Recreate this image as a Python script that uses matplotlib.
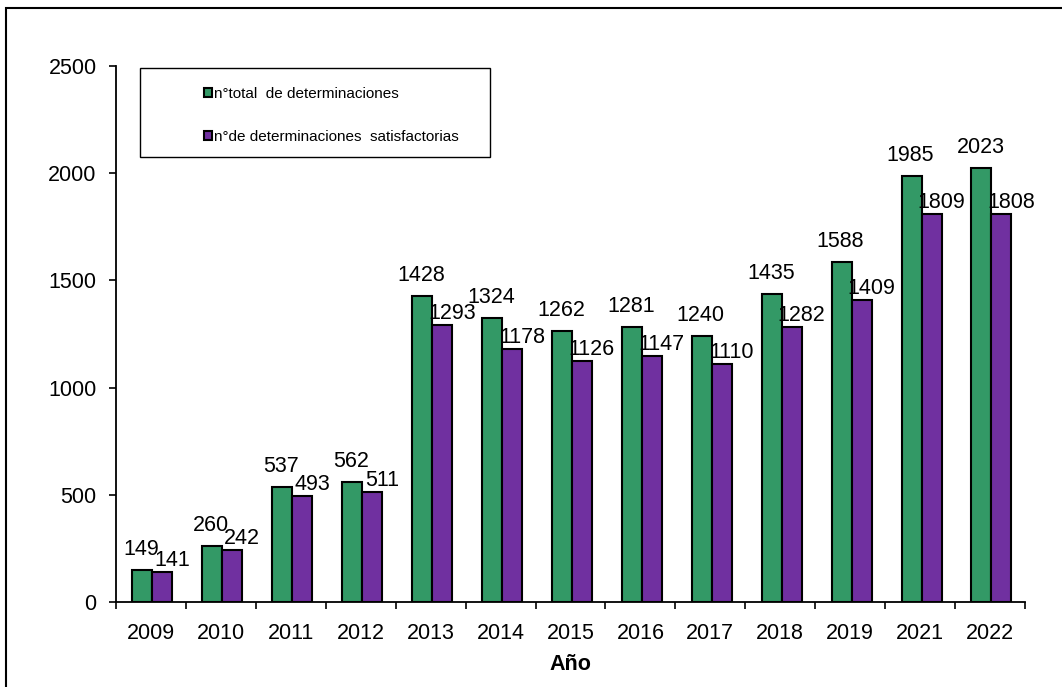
import numpy as np
import matplotlib
matplotlib.use("Agg")
import matplotlib.pyplot as plt
from matplotlib.patches import Rectangle

plt.rcParams["font.family"] = ["Liberation Sans", "DejaVu Sans"]

years = ["2009", "2010", "2011", "2012", "2013", "2014", "2015",
         "2016", "2017", "2018", "2019", "2021", "2022"]
total = [149, 260, 537, 562, 1428, 1324, 1262, 1281, 1240, 1435, 1588, 1985, 2023]
satisfactorias = [141, 242, 493, 511, 1293, 1178, 1126, 1147, 1110, 1282, 1409, 1809, 1808]
series_labels = ["n°total  de determinaciones", "n°de determinaciones  satisfactorias"]

GREEN = "#339966"
PURPLE = "#7030A0"

fig = plt.figure(figsize=(10.62, 6.87), dpi=100)
ax = fig.add_axes([0.1092, 0.1237, 0.8560, 0.7802])

x = np.arange(len(years))
w = 0.286
shift = 0.02
b1 = ax.bar(x + shift - w / 2, total, w, color=GREEN, edgecolor="black",
            linewidth=1.5, label=series_labels[0], zorder=2)
b2 = ax.bar(x + shift + w / 2, satisfactorias, w, color=PURPLE, edgecolor="black",
            linewidth=1.5, label=series_labels[1], zorder=2)

# value labels above each bar
for rect, v in zip(b1, total):
    ax.annotate(str(v), (rect.get_x() + rect.get_width() / 2, rect.get_height()),
                xytext=(-1, 15), textcoords="offset pixels",
                ha="center", va="baseline", fontsize=15.5)
for rect, v in zip(b2, satisfactorias):
    ax.annotate(str(v), (rect.get_x() + rect.get_width() / 2, rect.get_height()),
                xytext=(10, 6), textcoords="offset pixels",
                ha="center", va="baseline", fontsize=15.5)

ax.set_xlim(-0.5, len(years) - 0.5)
ax.set_ylim(0, 2500)
ax.set_yticks(np.arange(0, 2501, 500))
ax.set_xticks(x)
ax.set_xticklabels(years)
ax.set_xticks(np.arange(-0.5, len(years), 1), minor=True)
ax.tick_params(axis="x", which="major", length=0, pad=15, labelsize=15.5)
ax.tick_params(axis="x", which="minor", length=5, width=1.2, direction="out")
ax.tick_params(axis="y", length=5, width=1.2, direction="out", pad=9, labelsize=15.5)

for side in ("top", "right"):
    ax.spines[side].set_visible(False)
for side in ("left", "bottom"):
    ax.spines[side].set_linewidth(1.3)

ax.set_xlabel("Año", fontsize=15.5, fontweight="bold", labelpad=7)

# legend box
ax.add_patch(Rectangle((0.0264, 0.830), 0.385, 0.166, transform=ax.transAxes,
                       fill=False, edgecolor="black", linewidth=1.0, zorder=3))
ax.legend(loc="upper left", bbox_to_anchor=(0.0968, 0.9605), frameon=False,
          fontsize=11, handlelength=0.5, handleheight=0.5, handletextpad=0.15,
          labelspacing=1.9, borderaxespad=0, borderpad=0)

# outer frame
fig.add_artist(Rectangle((6 / 1062, -0.1), 1.2, 0.1 + (687 - 8) / 687,
                         transform=fig.transFigure, fill=False,
                         edgecolor="black", linewidth=1.5))

fig.savefig("out.png", dpi=100)
